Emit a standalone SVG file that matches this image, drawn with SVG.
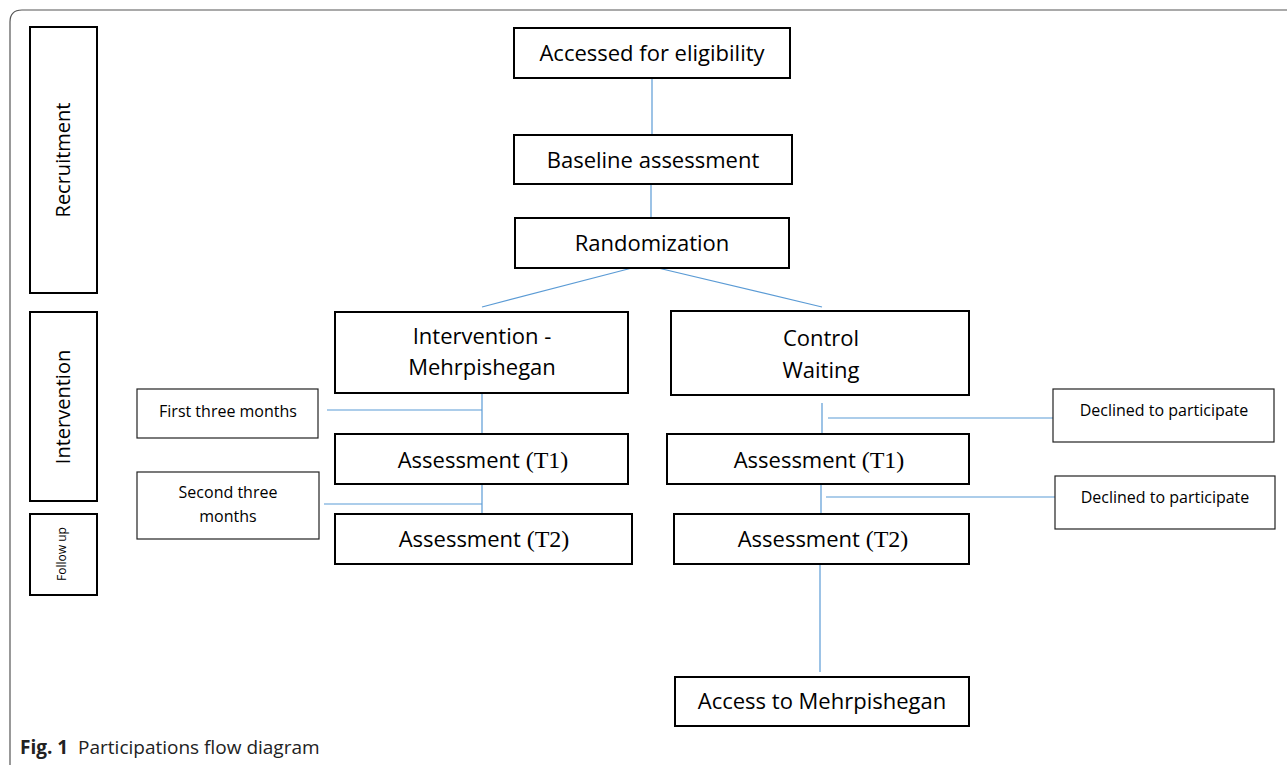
<svg xmlns="http://www.w3.org/2000/svg" width="1287" height="765" viewBox="0 0 1287 765">
<style>
.box{fill:#fff;stroke:#000;stroke-width:2}
.sbox{fill:#fff;stroke:#222;stroke-width:1.2}
.t{font-family:"Open Sans","Noto Sans",sans-serif;font-size:22px;fill:#000;text-anchor:middle}
.r{font-family:"Open Sans","Noto Sans",sans-serif;font-size:20px;fill:#000;text-anchor:middle}
.s{font-family:"Open Sans","Noto Sans",sans-serif;font-size:16px;fill:#000;text-anchor:middle}
.serif{font-family:"Liberation Serif",serif;font-size:24px}
.c{stroke:#5b9bd5;stroke-width:1.2;fill:none}
</style>
<rect width="1287" height="765" fill="#fff"/>
<path d="M10 765 V22 Q10 10 22 10 H1287" fill="none" stroke="#555" stroke-width="1.2"/>

<g id="recruitment"><rect class="box" x="30" y="27" width="67" height="266"/><text class="r" transform="translate(70 160) rotate(-90)">Recruitment</text></g>
<g id="intervention-label"><rect class="box" x="30" y="312" width="67" height="189"/><text class="r" transform="translate(70 407) rotate(-90)">Intervention</text></g>
<g id="followup"><rect class="box" x="30" y="514" width="67" height="81"/><text class="r" style="font-size:12px" transform="translate(66 554) rotate(-90)">Follow up</text></g>

<g id="connectors">
<line class="c" x1="652" y1="78" x2="652" y2="135"/>
<line class="c" x1="651" y1="184" x2="651" y2="218"/>
<line class="c" x1="632" y1="268" x2="482" y2="307"/>
<line class="c" x1="658" y1="268" x2="822" y2="307"/>
<line class="c" x1="482" y1="393" x2="482" y2="434"/>
<line class="c" x1="327" y1="410" x2="482" y2="410"/>
<line class="c" x1="482" y1="484" x2="482" y2="513"/>
<line class="c" x1="324" y1="504" x2="482" y2="504"/>
<line class="c" x1="822" y1="403" x2="822" y2="434"/>
<line class="c" x1="828" y1="418" x2="1053" y2="418"/>
<line class="c" x1="821" y1="484" x2="821" y2="514"/>
<line class="c" x1="826" y1="497" x2="1055" y2="497"/>
<line class="c" x1="820" y1="564" x2="820" y2="672"/>
</g>

<g id="eligibility"><rect class="box" x="514" y="28" width="276" height="50"/><text class="t" x="652" y="61">Accessed for eligibility</text></g>
<g id="baseline"><rect class="box" x="514" y="135" width="278" height="49"/><text class="t" x="653" y="168">Baseline assessment</text></g>
<g id="randomization"><rect class="box" x="515" y="218" width="274" height="50"/><text class="t" x="652" y="251">Randomization</text></g>

<g id="intervention"><rect class="box" x="335" y="312" width="293" height="81"/><text class="t" x="482" y="344">Intervention -</text><text class="t" x="482" y="375">Mehrpishegan</text></g>
<g id="control"><rect class="box" x="671" y="311" width="298" height="84"/><text class="t" x="821" y="346">Control</text><text class="t" x="821" y="378">Waiting</text></g>

<g id="first3"><rect class="sbox" x="137" y="389" width="181" height="49"/><text class="s" x="228" y="417">First three months</text></g>
<g id="second3"><rect class="sbox" x="137" y="472" width="182" height="67"/><text class="s" x="228" y="498">Second three</text><text class="s" x="228" y="522">months</text></g>

<g id="t1-int"><rect class="box" x="335" y="434" width="293" height="50"/><text class="t" x="483" y="468">Assessment <tspan class="serif">(T1)</tspan></text></g>
<g id="t2-int"><rect class="box" x="335" y="514" width="297" height="50"/><text class="t" x="484" y="547">Assessment <tspan class="serif">(T2)</tspan></text></g>

<g id="t1-ctl"><rect class="box" x="667" y="434" width="302" height="50"/><text class="t" x="819" y="468">Assessment <tspan class="serif">(T1)</tspan></text></g>
<g id="t2-ctl"><rect class="box" x="674" y="514" width="295" height="50"/><text class="t" x="823" y="547">Assessment <tspan class="serif">(T2)</tspan></text></g>

<g id="declined1"><rect class="sbox" x="1053" y="389" width="221" height="53"/><text class="s" x="1164" y="416">Declined to participate</text></g>
<g id="declined2"><rect class="sbox" x="1055" y="476" width="220" height="53"/><text class="s" x="1165" y="503">Declined to participate</text></g>

<g id="access"><rect class="box" x="675" y="677" width="294" height="49"/><text class="t" x="822" y="709">Access to Mehrpishegan</text></g>

<text x="20" y="754" style="font-family:'Open Sans',sans-serif;font-size:19px;fill:#222" xml:space="preserve"><tspan font-weight="bold">Fig. 1</tspan>  Participations flow diagram</text>
</svg>
